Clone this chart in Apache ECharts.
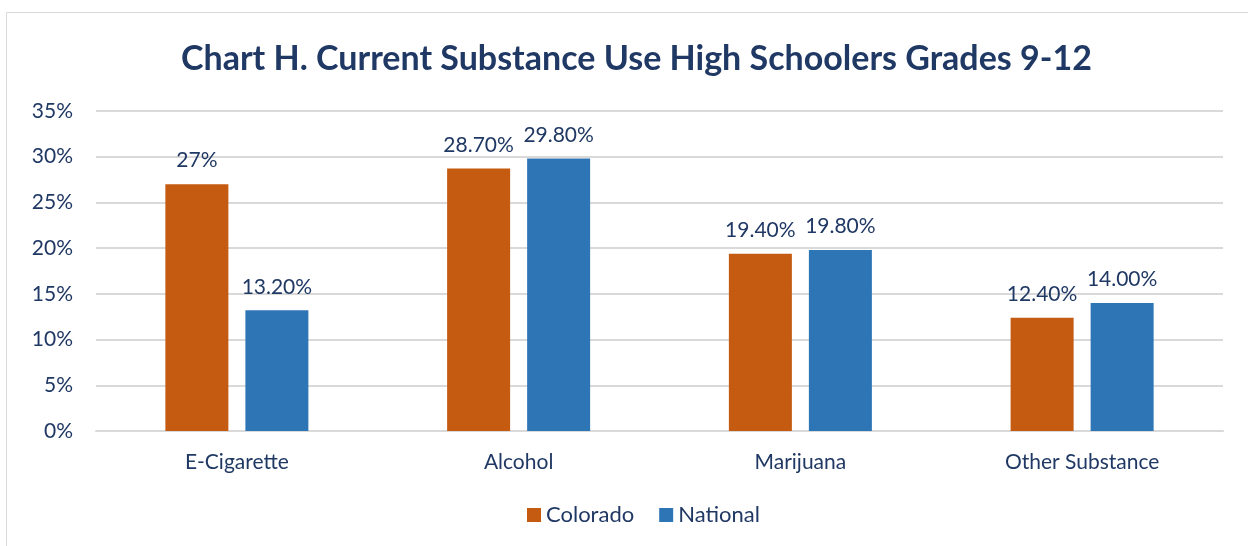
<!DOCTYPE html>
<html><head><meta charset="utf-8">
<script src="https://cdn.jsdelivr.net/npm/echarts@6/dist/echarts.min.js"></script>
<style>html,body{margin:0;padding:0;background:#fff}#c{width:1248px;height:546px}</style>
</head><body><div id="c"></div>
<script>
const titleText = 'Chart H. Current Substance Use High Schoolers Grades 9-12';
const categories = ['E-Cigarette', 'Alcohol', 'Marijuana', 'Other Substance'];
const colorado = [27, 28.7, 19.4, 12.4];
const coloradoLabels = ['27%', '28.70%', '19.40%', '12.40%'];
const national = [13.2, 29.8, 19.8, 14.0];
const nationalLabels = ['13.20%', '29.80%', '19.80%', '14.00%'];
const seriesNames = ['Colorado', 'National'];

const font = 'Lato, "Open Sans", sans-serif';
const txt = '#203864';
const chart = echarts.init(document.getElementById('c'));
chart.setOption({
  animation: false,
  graphic: [{type:'rect', shape:{x:6.5,y:12.5,width:1300,height:600}, style:{fill:'none',stroke:'#d9d9d9',lineWidth:1}, silent:true}],
  title: {text: titleText, left: 176, top: 37, textStyle:{fontFamily:font, fontWeight:'bold', fontSize:34, color:'#1F3864'}},
  legend: {bottom: 15, left: 522, itemWidth:14, itemHeight:14, itemGap:25, icon:'rect',
    textStyle:{fontFamily:font, fontSize:22, color:txt}, data: seriesNames},
  grid: {left: 96, right: 25, top: 111, bottom: 115, containLabel:false},
  xAxis: {type:'category', data: categories, axisTick:{show:false},
    axisLine:{lineStyle:{color:'#d9d9d9', width:2}},
    axisLabel:{fontFamily:font, fontSize:21, color:txt, margin:21}},
  yAxis: {type:'value', min:0, max:35, interval:5,
    axisLabel:{formatter:'{value}%', fontFamily:font, fontSize:21, color:txt, margin:23},
    splitLine:{lineStyle:{color:'#d9d9d9', width:2}}, axisLine:{show:false}, axisTick:{show:false}},
  series: [
    {name: seriesNames[0], type:'bar', data: colorado, barWidth:63, barGap:'27%', itemStyle:{color:'#C55A11'},
     label:{show:true, position:'top', distance:13, fontFamily:font, fontSize:21, color:txt, formatter:p=>coloradoLabels[p.dataIndex]}},
    {name: seriesNames[1], type:'bar', data: national, barWidth:63, itemStyle:{color:'#2E75B6'},
     label:{show:true, position:'top', distance:13, fontFamily:font, fontSize:21, color:txt, formatter:p=>nationalLabels[p.dataIndex]}}
  ]
});
</script></body></html>
